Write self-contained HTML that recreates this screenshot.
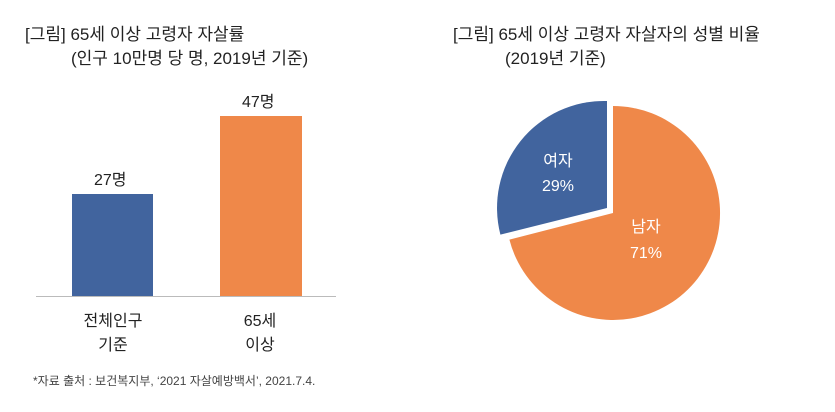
<!DOCTYPE html>
<html><head><meta charset="utf-8"><style>
body{margin:0;width:835px;height:412px;background:#fff;overflow:hidden;font-family:"Liberation Sans","Noto Sans CJK KR",sans-serif;color:#222}
.t{position:absolute;font-size:17px;white-space:nowrap}
</style></head><body>
<div class="t" style="left:25px;top:20px">[그림] 65세 이상 고령자 자살률</div>
<div class="t" style="left:71px;top:44px">(인구 10만명 당 명, 2019년 기준)</div>
<div class="t" style="left:453px;top:20px">[그림] 65세 이상 고령자 자살자의 성별 비율</div>
<div class="t" style="left:505px;top:44px">(2019년 기준)</div>
<div style="position:absolute;left:72px;top:194px;width:81px;height:102px;background:#41649e"></div>
<div style="position:absolute;left:220px;top:116px;width:82px;height:180px;background:#ef8849"></div>
<div style="position:absolute;left:36px;top:296px;width:300px;height:1px;background:#bbb"></div>
<div class="t" style="left:94px;top:166px;font-size:16px">27명</div>
<div class="t" style="left:242px;top:88px;font-size:16px">47명</div>
<div class="t" style="left:75px;top:310px;font-size:16px;text-align:center;width:76px;line-height:24px">전체인구<br>기준</div>
<div class="t" style="left:222px;top:310px;font-size:16px;text-align:center;width:76px;line-height:24px">65세<br>이상</div>
<div class="t" style="left:33px;top:372px;font-size:12px;color:#444">*자료 출처 : 보건복지부, ‘2021 자살예방백서’, 2021.7.4.</div>
<svg style="position:absolute;left:0;top:0" width="835" height="412">
<path d="M613,213 L613,106 A107,107 0 1 1 509.4,239.6 Z" fill="#ef8849"/>
<path d="M607,208 L500.4,234.6 A107,107 0 0 1 607,101 Z" fill="#41649e"/>
<g font-family="Liberation Sans, Noto Sans CJK KR, sans-serif" font-size="16" fill="#fff" text-anchor="middle">
<text x="558" y="166">여자</text><text x="558" y="191">29%</text>
<text x="646" y="232">남자</text><text x="646" y="258">71%</text>
</g></svg>
</body></html>
